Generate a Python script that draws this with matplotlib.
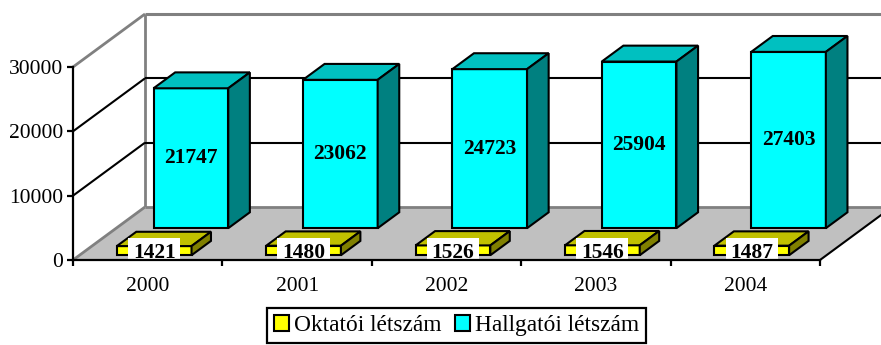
import matplotlib.pyplot as plt
from matplotlib.patches import Polygon, Patch

plt.rcParams['font.family'] = ['Liberation Serif', 'DejaVu Serif']

years = ['2000', '2001', '2002', '2003', '2004']
oktatoi = [1421, 1480, 1526, 1546, 1487]
hallgatoi = [21747, 23062, 24723, 25904, 27403]
yticks = [0, 10000, 20000, 30000]

YMAX = 30000
# oblique depth offset of the back wall, in data units
DX = 0.482
DY = 8240


def P(x, y, d):
    return (x + d * DX, y + d * DY)


def poly(ax, pts, fc, ec='black', lw=1.5, z=1):
    ax.add_patch(Polygon(pts, closed=True, facecolor=fc, edgecolor=ec,
                         linewidth=lw, zorder=z, clip_on=False,
                         joinstyle='miter'))


def line(ax, a, b, color='black', lw=1.5, z=1):
    ax.plot([a[0], b[0]], [a[1], b[1]], color=color, lw=lw, zorder=z,
            clip_on=False, solid_capstyle='butt')


def bar3d(ax, i, v, d0, d1, front, top, side, z):
    x0, x1 = i + 0.25, i + 0.75
    poly(ax, [P(x0, 0, d0), P(x1, 0, d0), P(x1, v, d0), P(x0, v, d0)], front, z=z)
    poly(ax, [P(x0, v, d0), P(x1, v, d0), P(x1, v, d1), P(x0, v, d1)], top, z=z)
    poly(ax, [P(x1, 0, d0), P(x1, 0, d1), P(x1, v, d1), P(x1, v, d0)], side, z=z)


fig = plt.figure(figsize=(8.81, 3.45), dpi=100)
ax = fig.add_axes([73 / 881, 85 / 345, 747 / 881, 193 / 345])
ax.set_xlim(0, 5)
ax.set_ylim(0, YMAX)
ax.patch.set_visible(False)

# walls and floor
poly(ax, [P(0, 0, 1), P(5.2, 0, 1), P(5.2, YMAX, 1), P(0, YMAX, 1)], 'white', ec='none', z=0)
line(ax, P(0, 0, 1), P(0, YMAX, 1), color='#808080', lw=2, z=0.5)
line(ax, P(0, YMAX, 1), P(5.2, YMAX, 1), color='#808080', lw=2.2, z=0.5)
line(ax, P(0, YMAX, 0), P(0, YMAX, 1), color='#808080', lw=2, z=0.5)
for v in yticks[1:-1]:
    line(ax, P(0, v, 0), P(0, v, 1), z=0.6)
    line(ax, P(0, v, 1), P(5.2, v, 1), z=0.6)
poly(ax, [P(0, 0, 0), P(5, 0, 0), P(5, 0, 1), P(0, 0, 1)], '#C0C0C0', ec='none', z=0.7)
line(ax, P(0, 0, 0), P(0, 0, 1), color='#808080', lw=2, z=0.8)
line(ax, P(0, 0, 1), P(5.2, 0, 1), color='#808080', lw=2, z=0.8)
line(ax, P(5, 0, 0), P(5, 0, 1), z=0.8)

# back row: Hallgatói létszám
for i, v in enumerate(hallgatoi):
    bar3d(ax, i, v, 0.60, 0.90, '#00FFFF', '#00C0C0', '#008080', z=2)
    cx, cy = P(i + 0.5, v / 2, 0.60)
    ax.text(cx, cy, str(v), ha='center', va='center', fontsize=15.5,
            fontweight='bold', zorder=3)

# front row: Oktatói létszám
for i, v in enumerate(oktatoi):
    bar3d(ax, i, v, 0.09, 0.36, '#FFFF00', '#C0C000', '#808000', z=4)
    cx, cy = P(i + 0.5, v / 2, 0.09)
    ax.text(cx, cy, str(v), ha='center', va='center_baseline', fontsize=15.5,
            fontweight='bold', zorder=5,
            bbox=dict(boxstyle='square,pad=0.22', fc='white', ec='none'))

for s in ['top', 'right']:
    ax.spines[s].set_visible(False)
for s in ['left', 'bottom']:
    ax.spines[s].set_linewidth(1.6)
    ax.spines[s].set_zorder(6)

ax.set_yticks(yticks)
ax.set_yticklabels([str(t) for t in yticks])
ax.tick_params(axis='y', direction='out', length=4, width=1.6, pad=3, labelsize=15.5)
ax.set_xticks(range(6))
ax.set_xticklabels([])
ax.set_xticks([i + 0.5 for i in range(5)], minor=True)
ax.set_xticklabels(years, minor=True)
ax.tick_params(axis='x', which='major', direction='out', length=4, width=1.6)
ax.tick_params(axis='x', which='minor', length=0, pad=12, labelsize=15.5)

handles = [Patch(facecolor='#FFFF00', edgecolor='black', lw=1.5),
           Patch(facecolor='#00FFFF', edgecolor='black', lw=1.5)]
leg = fig.legend(handles, ['Oktatói létszám', 'Hallgatói létszám'], ncol=2,
                 loc='center', bbox_to_anchor=(0.518, 0.056), fontsize=16.8,
                 fancybox=False, framealpha=1, edgecolor='black',
                 handlelength=0.65, handleheight=0.65, handletextpad=0.2,
                 columnspacing=0.6, borderpad=0.3, borderaxespad=0)
leg.get_frame().set_linewidth(1.6)

fig.savefig('out.png', dpi=100)
